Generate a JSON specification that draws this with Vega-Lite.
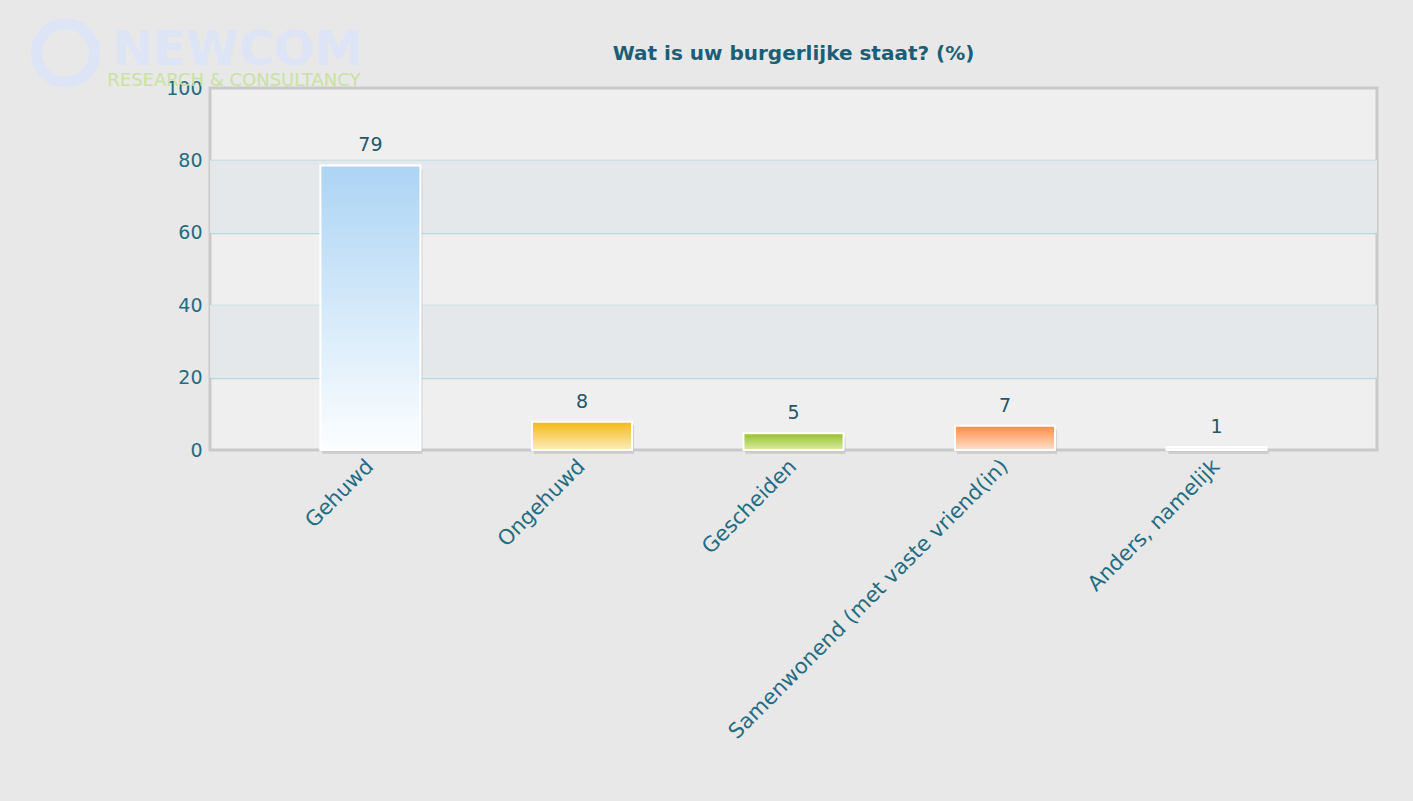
{
  "$schema": "https://vega.github.io/schema/vega-lite/v6.json",
  "autosize": {"type": "none"},
  "width": 1167,
  "height": 362,
  "padding": {"left": 210, "top": 88, "right": 36, "bottom": 351},
  "background": "#e8e8e8",
  "title": {
    "text": "Wat is uw burgerlijke staat? (%)",
    "anchor": "middle",
    "font": "DejaVu Sans",
    "fontSize": 20,
    "fontWeight": "bold",
    "color": "#1b5e76",
    "offset": -62
  },
  "config": {
    "view": {"fill": "#efefef", "stroke": "#c9c9c9", "strokeWidth": 3},
    "font": "DejaVu Sans"
  },
  "datasets": {
    "main": [
      {"staat": "Gehuwd", "pct": 78.6},
      {"staat": "Ongehuwd", "pct": 7.8},
      {"staat": "Gescheiden", "pct": 4.6},
      {"staat": "Samenwonend (met vaste vriend(in)", "pct": 6.7},
      {"staat": "Anders, namelijk", "pct": 0.8}
    ],
    "bands": [
      {"lo": 20, "hi": 40},
      {"lo": 60, "hi": 80}
    ],
    "logo": [
      {"staat": "Gehuwd", "pct": 100}
    ]
  },
  "layer": [
    {
      "data": {"name": "bands"},
      "mark": {"type": "rect", "color": "#e5e8ea"},
      "encoding": {
        "y": {"field": "lo", "type": "quantitative", "scale": {"domain": [0, 100]}},
        "y2": {"field": "hi"}
      }
    },
    {
      "data": {"name": "main"},
      "mark": {"type": "bar", "color": "#b9b9b9", "opacity": 0.55, "xOffset": 2, "yOffset": 4, "clip": false},
      "encoding": {
        "x": {"field": "staat", "type": "nominal", "sort": null,
              "scale": {"paddingInner": 0.527, "paddingOuter": 0.522}},
        "y": {"field": "pct", "type": "quantitative"}
      }
    },
    {
      "data": {"name": "main"},
      "mark": {"type": "bar", "stroke": "#ffffff", "strokeWidth": 2},
      "encoding": {
        "x": {"field": "staat", "type": "nominal", "sort": null,
              "scale": {"paddingInner": 0.527, "paddingOuter": 0.522},
              "axis": {"labelAngle": -45, "labelFontSize": 21, "labelColor": "#236c82",
                       "ticks": false, "domain": false, "title": null, "labelPadding": 13,
                       "labelLimit": 0, "labelFont": "DejaVu Sans"}},
        "y": {"field": "pct", "type": "quantitative",
              "scale": {"domain": [0, 100]},
              "axis": {"values": [0, 20, 40, 60, 80, 100], "grid": true, "gridColor": "#b3d9e1",
                       "gridOpacity": {"condition": {"test": "datum.value === 0 || datum.value === 100", "value": 0}, "value": 1},
                       "gridWidth": 1.5, "ticks": false, "domain": false, "title": null,
                       "labelFontSize": 19, "labelColor": "#236c82", "labelPadding": 8,
                       "labelFont": "DejaVu Sans"}},
        "fill": {
          "condition": [
            {"test": "datum.staat === 'Gehuwd'", "value": {"gradient": "linear", "x1": 0, "y1": 0, "x2": 0, "y2": 1,
              "stops": [{"offset": 0, "color": "#acd4f4"}, {"offset": 1, "color": "#fcfeff"}]}},
            {"test": "datum.staat === 'Ongehuwd'", "value": {"gradient": "linear", "x1": 0, "y1": 0, "x2": 0, "y2": 1,
              "stops": [{"offset": 0, "color": "#f5b915"}, {"offset": 1, "color": "#fdedbb"}]}},
            {"test": "datum.staat === 'Gescheiden'", "value": {"gradient": "linear", "x1": 0, "y1": 0, "x2": 0, "y2": 1,
              "stops": [{"offset": 0, "color": "#95c020"}, {"offset": 1, "color": "#dbeca8"}]}},
            {"test": "datum.staat === 'Samenwonend (met vaste vriend(in)'", "value": {"gradient": "linear", "x1": 0, "y1": 0, "x2": 0, "y2": 1,
              "stops": [{"offset": 0, "color": "#ff8a45"}, {"offset": 1, "color": "#ffe0cc"}]}}
          ],
          "value": "#f4f4f4"
        }
      }
    },
    {
      "data": {"name": "main"},
      "mark": {"type": "text", "baseline": "bottom", "dy": -10, "fontSize": 19, "color": "#24566a", "font": "DejaVu Sans"},
      "encoding": {
        "x": {"field": "staat", "type": "nominal", "sort": null},
        "y": {"field": "pct", "type": "quantitative"},
        "text": {"field": "pct", "type": "quantitative", "format": ".0f"}
      }
    },
    {
      "data": {"name": "logo"},
      "mark": {"type": "point", "shape": "circle", "filled": false, "size": 3400, "stroke": "#dde4f6",
               "strokeWidth": 11, "opacity": 1, "xOffset": -305, "yOffset": -35, "clip": false},
      "encoding": {
        "x": {"field": "staat", "type": "nominal", "sort": null},
        "y": {"field": "pct", "type": "quantitative"}
      }
    },
    {
      "data": {"name": "logo"},
      "mark": {"type": "text", "text": "NEWCOM", "align": "right", "baseline": "alphabetic", "dx": -8, "dy": -23,
               "fontSize": 48, "fontWeight": "bold", "font": "DejaVu Sans", "color": "#dde4f6"},
      "encoding": {
        "x": {"field": "staat", "type": "nominal", "sort": null},
        "y": {"field": "pct", "type": "quantitative"}
      }
    },
    {
      "data": {"name": "logo"},
      "mark": {"type": "text", "text": "RESEARCH & CONSULTANCY", "align": "right", "baseline": "alphabetic", "dx": -10, "dy": -2,
               "fontSize": 18, "font": "DejaVu Sans", "color": "#c8e2a2"},
      "encoding": {
        "x": {"field": "staat", "type": "nominal", "sort": null},
        "y": {"field": "pct", "type": "quantitative"}
      }
    }
  ]
}
